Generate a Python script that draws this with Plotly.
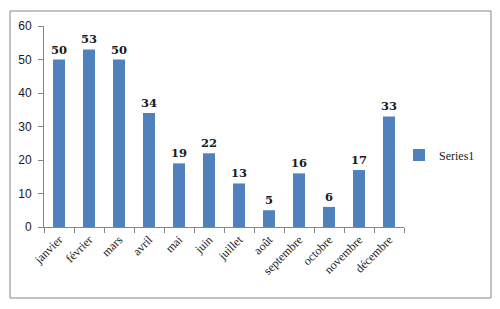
import plotly.graph_objects as go

months = ["janvier", "février", "mars", "avril", "mai", "juin", "juillet",
          "août", "septembre", "octobre", "novembre", "décembre"]
values = [50, 53, 50, 34, 19, 22, 13, 5, 16, 6, 17, 33]
series_name = "Series1"
y_ticks = [0, 10, 20, 30, 40, 50, 60]

OFF = 8  # page body margin
W, H = 500, 309
L, T = 44 - OFF, 26 - OFF
pw, ph = 360, 201
R = W - L - pw
B = H - T - ph

fig = go.Figure()
fig.add_trace(go.Bar(
    x=months, y=values, name=series_name,
    marker=dict(color="#4F81BD", line=dict(width=0)),
    text=[f"<b>{v}</b>" for v in values],
    textposition="outside", cliponaxis=False, constraintext="none",
    textfont=dict(family="DejaVu Serif", size=11.5, color="#1a1a1a"),
))

def px2x(p):
    return (p - OFF - L) / pw

def px2y(p):
    return (T + ph - (p - OFF)) / ph

fig.add_shape(type="rect", xref="paper", yref="paper",
              x0=px2x(10), x1=px2x(491), y0=px2y(298), y1=px2y(11),
              line=dict(color="#868686", width=1), fillcolor="rgba(0,0,0,0)")

fig.update_layout(
    width=W, height=H,
    margin=dict(l=L, r=R, t=T, b=B, autoexpand=False),
    paper_bgcolor="white", plot_bgcolor="white",
    bargap=0.6, showlegend=True,
    legend=dict(x=px2x(399), y=px2y(155), yanchor="middle", xanchor="left",
                font=dict(family="Liberation Serif", size=12, color="#1a1a1a"),
                itemwidth=30, bgcolor="rgba(0,0,0,0)"),
    font=dict(family="Liberation Sans", size=12, color="#1a1a1a"),
)
fig.update_xaxes(showline=True, linecolor="#868686", linewidth=1, automargin=False,
                 ticks="outside", tickson="boundaries", ticklen=5, tickcolor="#868686",
                 tickangle=-45, tickfont=dict(family="Liberation Serif", size=12, color="#1a1a1a"),
                 showgrid=False)
fig.update_yaxes(range=[0, 60], tickvals=y_ticks, showline=True, linecolor="#868686",
                 linewidth=1, ticks="outside", ticklen=5, tickcolor="#868686",
                 showgrid=False, zeroline=False, automargin=False, ticklabelstandoff=4,
                 tickfont=dict(family="Liberation Sans", size=12, color="#1a1a1a"))

fig.write_html("out.html")
